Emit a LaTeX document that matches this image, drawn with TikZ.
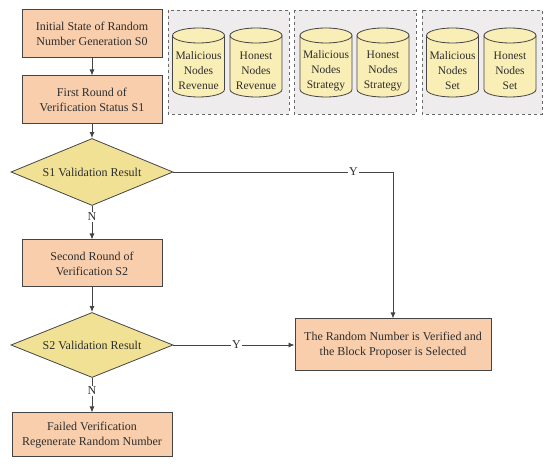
\documentclass[tikz,border=0pt]{standalone}
\usepackage{fontspec}
\setmainfont{Liberation Serif}
\usetikzlibrary{shapes.geometric,arrows.meta}
\definecolor{peach}{HTML}{F8CEAC}
\definecolor{khaki}{HTML}{F0E195}
\definecolor{cylf}{HTML}{F9EEB6}
\definecolor{grpf}{HTML}{EEECEC}
\definecolor{edge}{HTML}{454545}
\definecolor{txt}{HTML}{2E2E2E}
\tikzset{
  procbox/.style={draw=edge,line width=1pt,fill=peach,align=center,text=txt,
    font=\fontsize{12}{15}\selectfont,inner sep=0pt},
  decbox/.style={diamond,draw=edge,line width=0.8pt,fill=khaki,text=txt,
    font=\fontsize{12}{15}\selectfont,inner sep=0pt,aspect=2.4},
  grpbox/.style={draw=edge!80,dashed,line width=0.8pt,fill=grpf},
  cylbody/.style={draw=edge,line width=0.8pt,fill=cylf},
  cyltext/.style={align=center,text=txt,font=\fontsize{11.5}{15}\selectfont,inner sep=0pt},
  conn/.style={draw=edge,line width=0.9pt,-{Latex[length=6pt,width=5pt]}},
  lbl/.style={fill=white,inner sep=1pt,text=txt,font=\fontsize{12}{13}\selectfont}
}
\begin{document}
\begin{tikzpicture}[x=1pt,y=1pt]
\useasboundingbox (0,0) rectangle (550,464);
% groups
\draw[grpbox] (168,454) rectangle (289,350);
\draw[grpbox] (294,454) rectangle (416,350);
\draw[grpbox] (422,454) rectangle (542,350);
% cylinders
\foreach \cx in {198.5,256,326,383,452.5,510}{
  \fill[cylf] (\cx-26,428.5) -- (\cx-26,374.5) arc[start angle=180,end angle=360,x radius=26pt,y radius=7.5pt] -- (\cx+26,428.5) -- cycle;
  \draw[edge,line width=0.8pt] (\cx-26,428.5) -- (\cx-26,374.5) arc[start angle=180,end angle=360,x radius=26pt,y radius=7.5pt] -- (\cx+26,428.5);
  \draw[cylbody] (\cx,428.5) ellipse[x radius=26pt,y radius=7.5pt];
}
\node[cyltext] (c1) at (198.5,393) {Malicious\\Nodes\\Revenue};
\node[cyltext] (c2) at (256,393) {Honest\\Nodes\\Revenue};
\node[cyltext] (c3) at (326,393) {Malicious\\Nodes\\Strategy};
\node[cyltext] (c4) at (383,393) {Honest\\Nodes\\Strategy};
\node[cyltext] (c5) at (452.5,393) {Malicious\\Nodes\\Set};
\node[cyltext] (c6) at (510,393) {Honest\\Nodes\\Set};
% flow
\node[procbox,minimum width=140pt,minimum height=48pt] (s0) at (92,430) {Initial State of Random\\Number Generation S0};
\node[procbox,minimum width=140pt,minimum height=48pt] (s1) at (92,364) {First Round of\\Verification Status S1};
\node[decbox,minimum width=162pt,minimum height=67pt] (d1) at (92,292) {S1 Validation Result};
\node[procbox,minimum width=140pt,minimum height=47pt] (s2) at (92,200.5) {Second Round of\\Verification S2};
\node[decbox,minimum width=162pt,minimum height=65pt] (d2) at (92,119) {S2 Validation Result};
\node[procbox,minimum width=160pt,minimum height=44pt] (fail) at (92,29) {Failed Verification\\Regenerate Random Number};
\node[procbox,minimum width=196pt,minimum height=52pt] (ok) at (393,119) {The Random Number is Verified and\\the Block Proposer is Selected};
\draw[conn] (s0) -- (s1);
\draw[conn] (s1) -- (d1);
\draw[conn] (d1) -- node[lbl,pos=0.33] {N} (s2);
\draw[conn] (s2) -- (d2);
\draw[conn] (d2) -- node[lbl,pos=0.38] {N} (fail);
\draw[conn] (d2) -- node[lbl,pos=0.52] {Y} (ok);
\draw[conn] (d1.east) -| node[lbl,pos=0.41] {Y} (ok.north);
\end{tikzpicture}
\end{document}
